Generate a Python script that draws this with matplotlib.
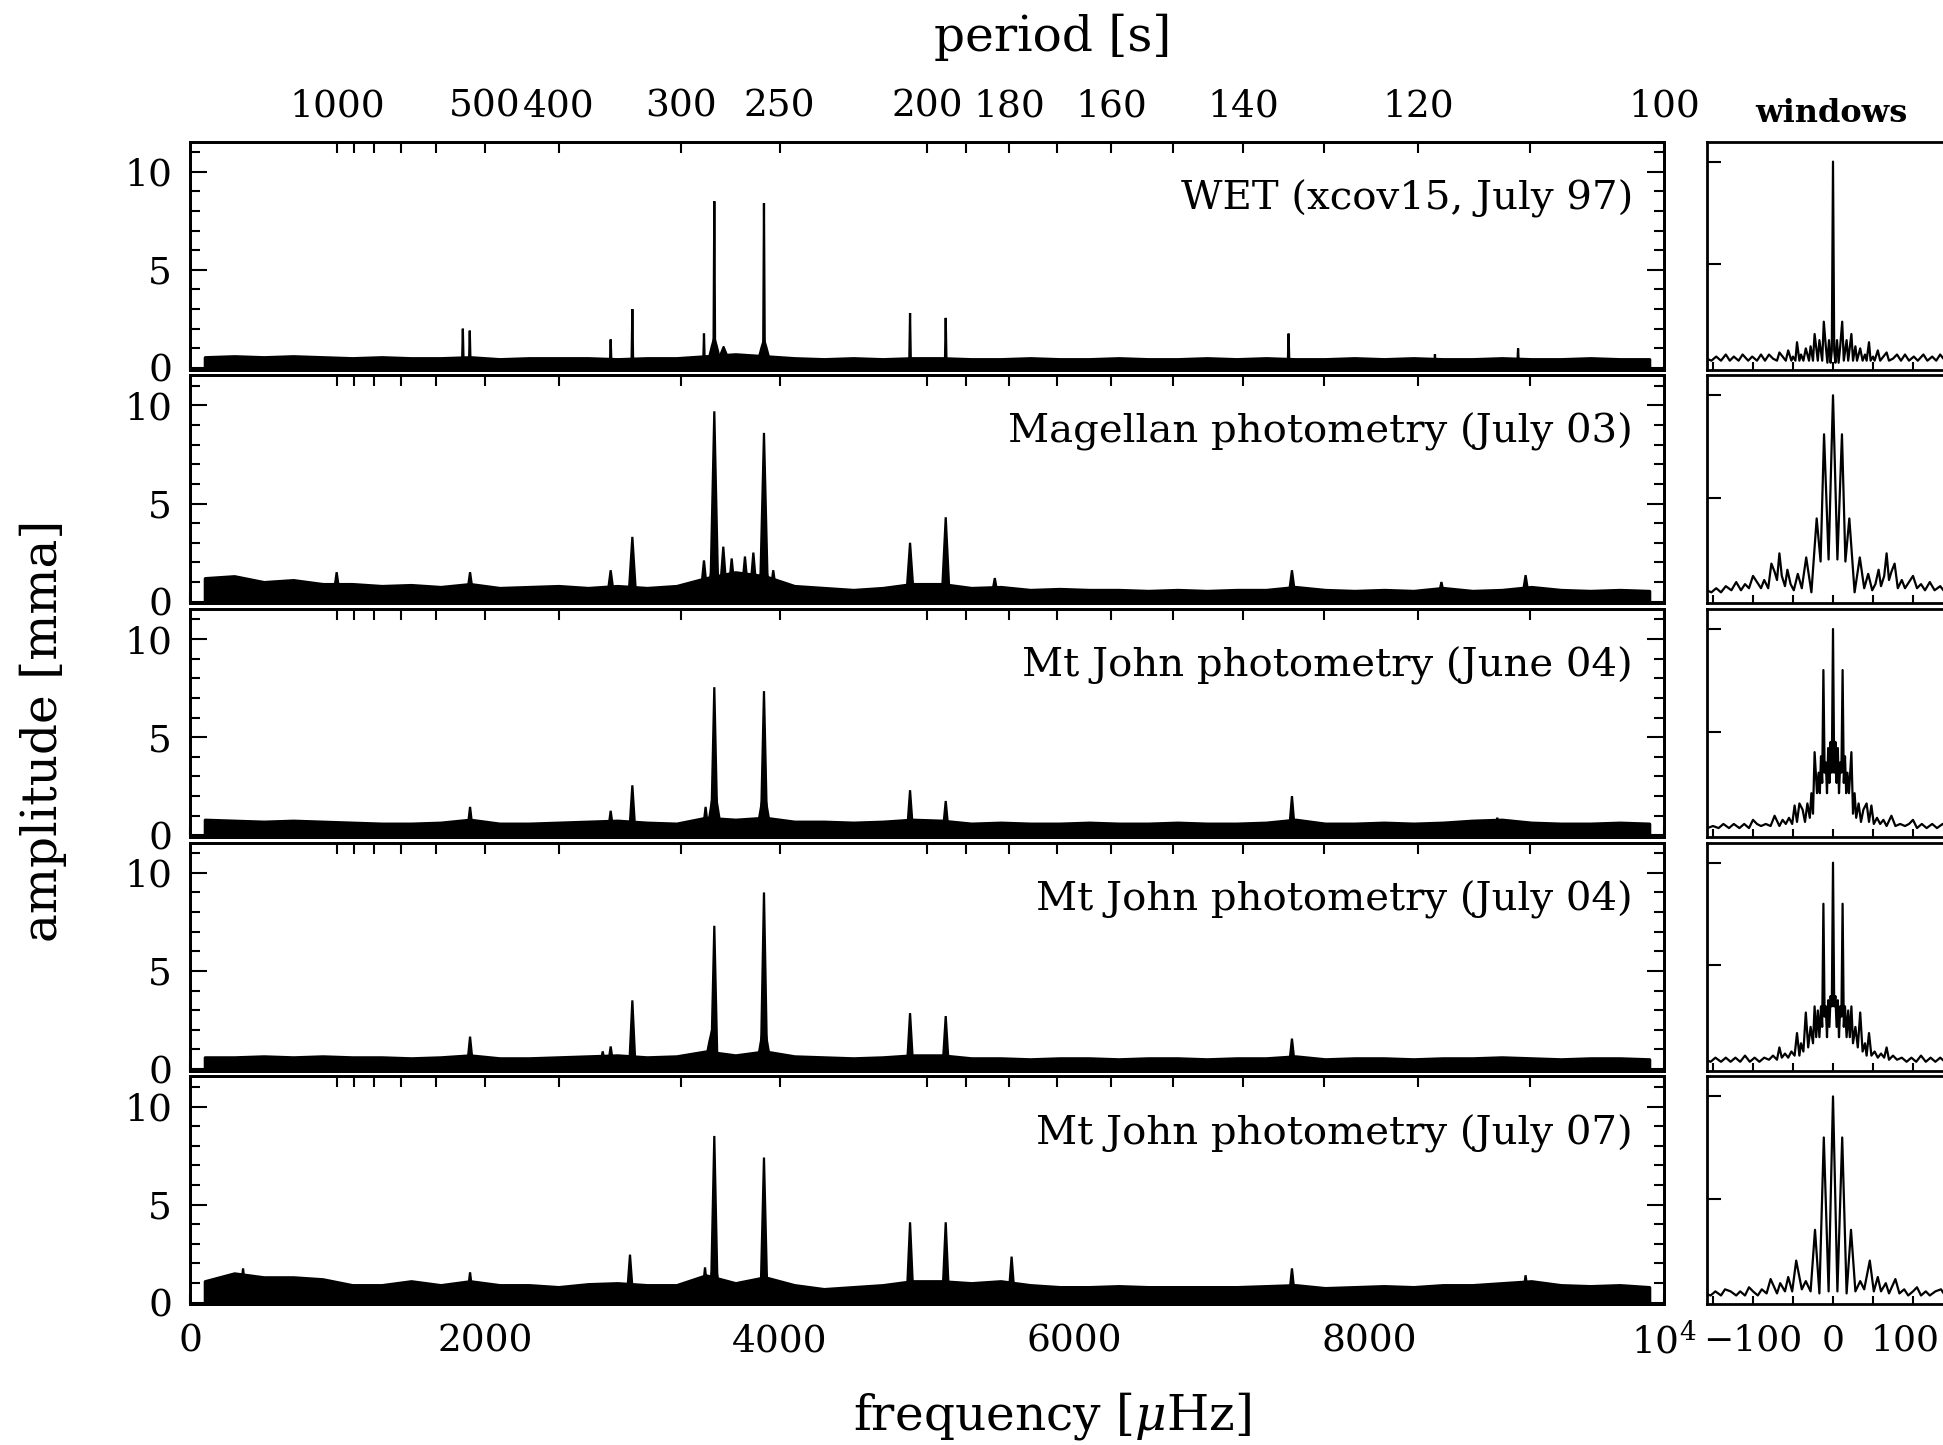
"""
Amplitude spectra of five observing runs plus their spectral windows
"""

import matplotlib.pyplot as plt
import matplotlib.transforms as mtransforms
import numpy as np

plt.rcParams['font.family'] = 'DejaVu Serif'
plt.rcParams['mathtext.fontset'] = 'dejavuserif'

# ---- data ----
run_labels = ['WET (xcov15, July 97)',
              'Magellan photometry (July 03)',
              'Mt John photometry (June 04)',
              'Mt John photometry (July 04)',
              'Mt John photometry (July 07)']

# noise floor: one value per 200 uHz bin, bins centred at 100, 300, ... 9900 uHz
noise_freq = np.arange(100, 10000, 200)
noise_wet = [0.55, 0.6, 0.55, 0.6, 0.55, 0.5, 0.55, 0.5, 0.5, 0.55,
             0.45, 0.5, 0.5, 0.5, 0.45, 0.5, 0.5, 0.6, 0.7, 0.6,
             0.5, 0.45, 0.5, 0.45, 0.5, 0.5, 0.45, 0.45, 0.5, 0.45,
             0.45, 0.5, 0.45, 0.45, 0.5, 0.45, 0.5, 0.45, 0.45, 0.5,
             0.45, 0.5, 0.45, 0.45, 0.5, 0.45, 0.45, 0.5, 0.45, 0.45]
noise_mag = [1.2, 1.3, 1.0, 1.1, 0.9, 0.9, 0.8, 0.85, 0.75, 0.9,
             0.7, 0.75, 0.8, 0.7, 0.8, 0.7, 0.8, 1.2, 1.5, 1.3,
             0.8, 0.7, 0.6, 0.7, 0.9, 0.9, 0.7, 0.75, 0.6, 0.65,
             0.6, 0.6, 0.55, 0.6, 0.55, 0.6, 0.6, 0.75, 0.6, 0.55,
             0.6, 0.55, 0.7, 0.55, 0.6, 0.75, 0.6, 0.55, 0.6, 0.55]
noise_jun04 = [0.8, 0.75, 0.7, 0.75, 0.7, 0.65, 0.6, 0.6, 0.65, 0.8,
               0.6, 0.6, 0.65, 0.7, 0.75, 0.65, 0.6, 0.9, 0.8, 0.9,
               0.7, 0.7, 0.65, 0.7, 0.8, 0.75, 0.6, 0.65, 0.6, 0.6,
               0.65, 0.6, 0.6, 0.65, 0.6, 0.6, 0.65, 0.8, 0.6, 0.6,
               0.65, 0.6, 0.65, 0.75, 0.8, 0.65, 0.6, 0.6, 0.65, 0.6]
noise_jul04 = [0.6, 0.6, 0.65, 0.6, 0.65, 0.6, 0.6, 0.55, 0.6, 0.7,
               0.55, 0.55, 0.6, 0.65, 0.7, 0.6, 0.65, 0.9, 0.7, 0.9,
               0.65, 0.6, 0.55, 0.6, 0.7, 0.7, 0.55, 0.55, 0.5, 0.55,
               0.55, 0.5, 0.55, 0.55, 0.5, 0.55, 0.55, 0.65, 0.5, 0.55,
               0.55, 0.5, 0.55, 0.55, 0.6, 0.55, 0.5, 0.55, 0.55, 0.5]
noise_jul07 = [1.1, 1.5, 1.3, 1.3, 1.2, 0.9, 0.9, 1.1, 0.9, 1.1,
               0.9, 0.9, 0.8, 0.95, 1.0, 0.9, 0.9, 1.4, 1.0, 1.3,
               0.9, 0.7, 0.8, 0.9, 1.1, 1.1, 1.0, 1.1, 0.9, 0.8,
               0.8, 0.85, 0.8, 0.8, 0.8, 0.8, 0.85, 0.9, 0.75, 0.8,
               0.85, 0.8, 0.9, 0.9, 1.0, 1.1, 0.9, 0.85, 0.9, 0.8]

# pulsation peaks (uHz, mma)
peak_freq_wet = [1851, 1898, 2854, 3001, 3487, 3557, 3894, 4885, 5127, 7453, 8446, 9010]
peak_amp_wet = [2.0, 1.9, 1.45, 3.0, 1.75, 8.5, 8.4, 2.8, 2.55, 1.75, 0.7, 1.0]
peak_freq_mag = [995, 1900, 2854, 3001, 3487, 3557, 3618, 3675, 3765, 3822, 3894, 3957,
                 4885, 5127, 5460, 7476, 8490, 9061]
peak_amp_mag = [1.5, 1.5, 1.6, 3.3, 2.1, 9.7, 2.8, 2.2, 2.3, 2.5, 8.6, 1.6,
                3.0, 4.3, 1.2, 1.6, 1.0, 1.35]
peak_freq_jun04 = [1900, 2854, 3001, 3498, 3557, 3894, 4885, 5127, 7476, 8869]
peak_amp_jun04 = [1.45, 1.25, 2.55, 1.45, 7.55, 7.35, 2.3, 1.75, 2.0, 0.9]
peak_freq_jul04 = [1900, 2800, 2854, 3001, 3557, 3894, 4885, 5127, 7476]
peak_amp_jul04 = [1.65, 0.9, 1.15, 3.5, 7.3, 9.0, 2.85, 2.7, 1.55]
peak_freq_jul07 = [360, 1900, 2985, 3494, 3557, 3894, 4885, 5127, 5574, 7476, 9061]
peak_amp_jul07 = [1.75, 1.55, 2.45, 1.8, 8.5, 7.4, 4.1, 4.1, 2.35, 1.75, 1.4]

# broad excess power under the two main modes
hump_freq_wet = [3557, 3620, 3894]
hump_amp_wet = [1.6, 1.1, 1.5]
hump_freq_mag = [3557, 3894]
hump_amp_mag = [2.5, 2.3]
hump_freq_jun04 = [3557, 3894]
hump_amp_jun04 = [2.5, 2.3]
hump_freq_jul04 = [3540, 3894]
hump_amp_jul04 = [2.0, 2.3]
hump_freq_jul07 = [3557, 3894]
hump_amp_jul07 = [2.2, 2.0]

# spectral windows, positive half (offset uHz, amplitude normalised to 1)
win_off_wet = [0, 1.5, 3, 5, 7, 9, 11.5, 13.5, 17, 19, 23, 25, 28, 30, 34, 37, 40, 42, 45, 47,
               50, 52, 56, 59, 63, 67, 70, 75, 80, 85, 90, 95, 101, 106, 113, 118, 124, 129,
               134, 140, 146, 152, 158, 165]
win_amp_wet = [1.0, 0.08, 0.02, 0.13, 0.02, 0.1, 0.22, 0.03, 0.13, 0.03, 0.16, 0.03, 0.1, 0.03,
               0.09, 0.03, 0.06, 0.03, 0.12, 0.03, 0.05, 0.03, 0.08, 0.03, 0.05, 0.07, 0.03,
               0.04, 0.06, 0.03, 0.06, 0.03, 0.05, 0.03, 0.06, 0.03, 0.05, 0.03, 0.06, 0.03,
               0.05, 0.03, 0.04, 0.03]
win_off_mag = [0, 5.5, 11.2, 15.5, 20.4, 27, 33.5, 39, 44, 49, 53, 57, 60, 64, 67, 70, 73, 77,
               81, 86, 90, 95, 100, 105, 110, 115, 121, 127, 134, 140, 146, 152, 158, 165]
win_amp_mag = [1.0, 0.2, 0.81, 0.19, 0.40, 0.04, 0.21, 0.06, 0.13, 0.05, 0.08, 0.15, 0.07, 0.12,
               0.23, 0.1, 0.14, 0.18, 0.06, 0.1, 0.06, 0.09, 0.12, 0.06, 0.08, 0.05, 0.09, 0.05,
               0.07, 0.04, 0.06, 0.04, 0.05, 0.03]
win_off_jun04 = [0, 1.5, 3, 4.5, 6, 7.5, 9, 10.5, 12, 13.5, 15, 16.5, 18, 20, 23, 25, 27, 29, 32,
                 35, 38, 42, 45, 48, 51, 55, 59, 63, 67, 73, 78, 84, 90, 95, 100, 105, 111, 117,
                 124, 130, 137, 143, 150, 157, 165]
win_amp_jun04 = [1.0, 0.3, 0.45, 0.25, 0.42, 0.2, 0.35, 0.3, 0.8, 0.25, 0.38, 0.2, 0.3, 0.2, 0.4,
                 0.1, 0.2, 0.08, 0.15, 0.06, 0.12, 0.15, 0.06, 0.14, 0.05, 0.08, 0.05, 0.07, 0.04,
                 0.09, 0.04, 0.05, 0.04, 0.05, 0.07, 0.03, 0.05, 0.03, 0.05, 0.03, 0.05, 0.03,
                 0.04, 0.03, 0.04]
win_off_jul04 = [0, 1.5, 3, 4.5, 6, 7.5, 9, 10.5, 12, 13.5, 15, 17, 19, 21, 23, 25, 28, 31, 34,
                 37, 40, 42, 45, 48, 52, 56, 60, 64, 67, 70, 75, 80, 86, 92, 98, 104, 110, 116,
                 122, 128, 134, 140, 147, 153, 160]
win_amp_jul04 = [1.0, 0.3, 0.35, 0.2, 0.33, 0.15, 0.3, 0.25, 0.8, 0.2, 0.3, 0.15, 0.28, 0.15, 0.3,
                 0.12, 0.2, 0.1, 0.27, 0.08, 0.12, 0.06, 0.17, 0.06, 0.08, 0.05, 0.07, 0.05, 0.1,
                 0.04, 0.06, 0.04, 0.05, 0.03, 0.05, 0.03, 0.06, 0.03, 0.05, 0.03, 0.05, 0.03,
                 0.05, 0.03, 0.04]
win_off_jul07 = [0, 5.5, 11.5, 17, 22.5, 28, 34, 39, 46, 51, 56, 60, 66, 70, 78, 83, 89, 94, 100,
                 105, 110, 116, 121, 128, 135, 140, 147, 153, 160]
win_amp_jul07 = [1.0, 0.05, 0.8, 0.04, 0.35, 0.05, 0.1, 0.06, 0.2, 0.05, 0.12, 0.05, 0.09, 0.04,
                 0.11, 0.04, 0.06, 0.03, 0.05, 0.07, 0.03, 0.05, 0.03, 0.05, 0.06, 0.03, 0.05,
                 0.03, 0.04]

noise_all = [noise_wet, noise_mag, noise_jun04, noise_jul04, noise_jul07]
peak_freq_all = [peak_freq_wet, peak_freq_mag, peak_freq_jun04, peak_freq_jul04, peak_freq_jul07]
peak_amp_all = [peak_amp_wet, peak_amp_mag, peak_amp_jun04, peak_amp_jul04, peak_amp_jul07]
hump_freq_all = [hump_freq_wet, hump_freq_mag, hump_freq_jun04, hump_freq_jul04, hump_freq_jul07]
hump_amp_all = [hump_amp_wet, hump_amp_mag, hump_amp_jun04, hump_amp_jul04, hump_amp_jul07]
win_off_all = [win_off_wet, win_off_mag, win_off_jun04, win_off_jul04, win_off_jul07]
win_amp_all = [win_amp_wet, win_amp_mag, win_amp_jun04, win_amp_jul04, win_amp_jul07]

period_ticks = [1000, 900, 800, 700, 600, 500, 400, 300, 250, 200, 190, 180, 170, 160,
                150, 140, 130, 120, 110, 100]
period_labels = [1000, 500, 400, 300, 250, 200, 180, 160, 140, 120, 100]

# ---- styles ----
peak_halfwidth = [6, 28, 22, 22, 24]   # uHz, visual width of the peaks per run
hump_halfwidth = 55
W, H = 1943, 1445
top0, step, ph = 141.5, 233.7, 228.0
lw_frame = 2.0

fig = plt.figure(figsize=(W / 100, H / 100), dpi=100, facecolor='white')

for k in range(5):
    top = top0 + k * step
    bottom = 1 - (top + ph) / H
    ax = fig.add_axes([190 / W, bottom, 1474 / W, ph / H])
    wx = fig.add_axes([1707 / W, bottom, 254 / W, ph / H])

    # --- amplitude spectrum ---
    ax.fill_between(noise_freq, -0.1, noise_all[k], color='k', edgecolor='k', linewidth=2.2)
    hw = hump_halfwidth
    for f, a in zip(hump_freq_all[k], hump_amp_all[k]):
        ax.fill([f - hw, f - hw / 3, f, f + hw / 3, f + hw], [0, a * 0.7, a, a * 0.7, 0],
                facecolor='k', edgecolor='k', linewidth=1.2)
    hw = peak_halfwidth[k]
    for f, a in zip(peak_freq_all[k], peak_amp_all[k]):
        ax.fill([f - hw, f, f + hw], [0, a, 0], facecolor='k', edgecolor='k', linewidth=1.6)

    ax.set_xlim(0, 10000)
    ax.set_ylim(-0.08, 11.54)
    ax.set_xticks(range(0, 10001, 2000))
    ax.set_xticks(range(1000, 10000, 2000), minor=True)
    ax.set_yticks([0, 5, 10])
    ax.set_yticks(range(0, 12), minor=True)
    ax.tick_params(which='both', direction='in', top=False, bottom=True, left=True, right=True,
                   width=1.5, labelsize=27)
    ax.tick_params(axis='y', which='major', length=12, pad=13)
    ax.tick_params(axis='y', which='minor', length=7)
    ax.tick_params(axis='x', which='both', length=7, labelsize=27, pad=14)
    if k == 4:
        ax.set_xticklabels(['0', '2000', '4000', '6000', '8000', '10$^4$'])
    else:
        ax.set_xticklabels([])
    for sp in ax.spines.values():
        sp.set_linewidth(lw_frame)

    ax.text(0.979, 0.75, run_labels[k], transform=ax.transAxes, ha='right', va='center',
            fontsize=29)

    # period axis on top
    axt = ax.twiny()
    axt.set_xlim(0, 10000)
    axt.set_xticks([1e6 / p for p in period_ticks])
    axt.set_xticklabels([str(p) if (p in period_labels and k == 0) else '' for p in period_ticks])
    axt.tick_params(direction='in', length=8, width=1.5, labelsize=27, pad=12)
    for sp in axt.spines.values():
        sp.set_linewidth(lw_frame)

    # --- spectral window ---
    off = np.array(win_off_all[k], dtype=float)
    amp = np.array(win_amp_all[k], dtype=float)
    wx.plot(np.concatenate([-off[::-1], off[1:]]), np.concatenate([amp[::-1], amp[1:]]),
            color='k', linewidth=1.6)
    wx.set_xlim(-157.5, 160)
    wx.set_ylim(-0.013, 1.098)
    wx.set_yticks([0.5, 1.0])
    wx.set_yticklabels([])
    wx.set_xticks([-100, 0, 100])
    wx.set_xticks([-150, -50, 50, 150], minor=True)
    wx.tick_params(which='both', direction='in', top=False, right=False, width=1.5)
    wx.tick_params(axis='y', length=10)
    wx.tick_params(axis='x', which='both', length=6, labelsize=26, pad=14)
    if k == 4:
        wx.set_xticklabels(['\u2212100', '0', '100'])
        # keep the last label inside the canvas
        shift = mtransforms.ScaledTranslation(-8 / 100, 0, fig.dpi_scale_trans)
        last = wx.get_xticklabels()[-1]
        last.set_transform(last.get_transform() + shift)
    else:
        wx.set_xticklabels([])
    for sp in wx.spines.values():
        sp.set_linewidth(lw_frame)

fig.text(1053 / W, 1 - 37 / H, 'period [s]', ha='center', va='center', fontsize=35)
fig.text(1052 / W, 1 - 1416 / H, r'frequency [$\mu$Hz]', ha='center', va='center', fontsize=35)
fig.text(43 / W, 1 - 731 / H, 'amplitude [mma]', ha='center', va='center', rotation=90,
         fontsize=35)
fig.text(1831 / W, 1 - 114 / H, 'windows', ha='center', va='center', fontsize=23,
         fontweight='bold')

fig.savefig('out.png', dpi=100, facecolor='white')
